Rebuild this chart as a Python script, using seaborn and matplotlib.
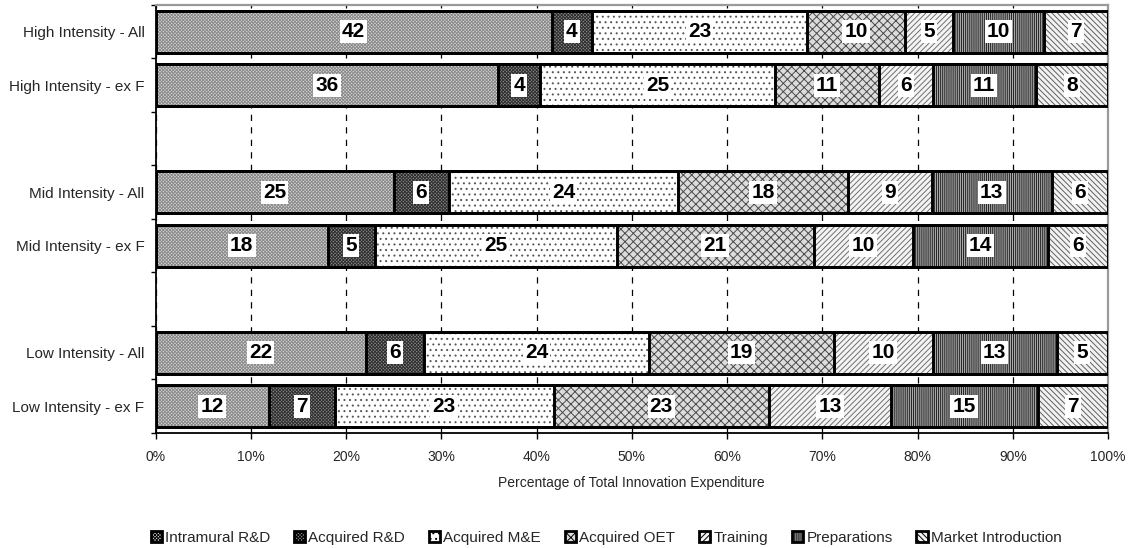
import matplotlib
matplotlib.use("Agg")
import matplotlib.pyplot as plt
import numpy as np
import pandas as pd
import seaborn as sns
from matplotlib.patches import Patch
from matplotlib.ticker import MultipleLocator, PercentFormatter, FixedLocator

# ---- data -------------------------------------------------------------
groups = [
    "High Intensity - All",
    "High Intensity - ex F",
    "Mid Intensity - All",
    "Mid Intensity - ex F",
    "Low Intensity - All",
    "Low Intensity - ex F",
]
# two spacer rows separate the intensity blocks
row_order = [groups[0], groups[1], "", groups[2], groups[3], " ", groups[4], groups[5]]

components = [
    "Intramural R&D",
    "Acquired R&D",
    "Acquired M&E",
    "Acquired OET",
    "Training",
    "Preparations",
    "Market Introduction",
]

intramural_rd = [41.6, 36.0, 25.0, 18.1, 22.1, 11.9]
acquired_rd = [4.2, 4.4, 5.8, 4.9, 6.1, 6.9]
acquired_me = [22.6, 24.6, 24.1, 25.4, 23.6, 23.0]
acquired_oet = [10.3, 11.0, 17.8, 20.7, 19.4, 22.6]
training = [5.0, 5.6, 8.8, 10.4, 10.4, 12.8]
preparations = [9.6, 10.8, 12.6, 14.2, 13.0, 15.4]
market_intro = [6.7, 7.6, 5.9, 6.3, 5.4, 7.4]

series = [intramural_rd, acquired_rd, acquired_me, acquired_oet,
          training, preparations, market_intro]

# ---- styles (face colour, hatch colour, hatch) ------------------------
styles = {
    "Intramural R&D": ("#dadada", "#8a8a8a", "xxxxxxxxxx"),
    "Acquired R&D": ("#8c8c8c", "#2e2e2e", "xxxxxxxxxx"),
    "Acquired M&E": ("#ffffff", "#555555", "..."),
    "Acquired OET": ("#dcdcdc", "#4a4a4a", "xxxx"),
    "Training": ("#f4f4f4", "#707070", "//////"),
    "Preparations": ("#aaaaaa", "#202020", "||||||||"),
    "Market Introduction": ("#f2f2f2", "#606060", "\\\\\\\\\\\\"),
}

# ---- long table with segment start / end -----------------------------
records = []
for gi, g in enumerate(groups):
    start = 0.0
    for comp, vals in zip(components, series):
        v = vals[gi]
        records.append(dict(group=g, component=comp, value=v,
                            start=start, end=start + v))
        start += v
df = pd.DataFrame(records)

# ---- figure -----------------------------------------------------------
sns.set_theme(style="white")
plt.rcParams["font.family"] = ["Liberation Sans", "DejaVu Sans"]
plt.rcParams["hatch.linewidth"] = 0.7

fig = plt.figure(figsize=(11.32, 5.48), dpi=100)
ax = fig.add_axes([0.1374, 0.2099, 0.8414, 0.7811])
ax.set_axisbelow(True)

bar_w = 0.79

# fills: cumulative bars from the outermost segment inwards
for comp in reversed(components):
    face, hcol, hatch = styles[comp]
    sub = df[df["component"] == comp]
    sns.barplot(data=sub, x="end", y="group", order=row_order, orient="h",
                color=face, saturation=1, errorbar=None, width=bar_w,
                hatch=hatch, edgecolor=hcol, linewidth=0, ax=ax, zorder=2)

# black outlines of every segment boundary
for comp in reversed(components):
    sub = df[df["component"] == comp]
    sns.barplot(data=sub, x="end", y="group", order=row_order, orient="h",
                fill=False, color="black", errorbar=None, width=bar_w,
                linewidth=2.1, ax=ax, zorder=3)

# value labels in white boxes
for _, r in df.iterrows():
    ax.text(r["start"] + r["value"] / 2, row_order.index(r["group"]),
            f"{r['value']:.0f}", ha="center", va="center",
            fontsize=15, fontweight="bold", color="black", zorder=5,
            bbox=dict(boxstyle="square,pad=0.1", facecolor="white",
                      edgecolor="none"))

# ---- axes cosmetics ---------------------------------------------------
ax.set_xlim(0, 100)
ax.set_ylim(len(row_order) - 0.5, -0.5)
ax.xaxis.set_major_locator(MultipleLocator(10))
ax.xaxis.set_major_formatter(PercentFormatter(decimals=0))
ax.grid(axis="x", color="black", linestyle=(0, (5, 5)), linewidth=0.9)
ax.grid(axis="y", visible=False)

ax.set_ylabel("")
ax.set_xlabel("Percentage of Total Innovation Expenditure",
              fontsize=10, labelpad=9)
ax.tick_params(axis="x", which="major", bottom=True, length=4, width=1,
               color="black", labelsize=10, pad=8)
ax.tick_params(axis="y", which="major", left=False, length=0,
               labelsize=11, pad=8)
ax.yaxis.set_minor_locator(FixedLocator(np.arange(-0.5, len(row_order), 1.0)))
ax.tick_params(axis="y", which="minor", left=True, length=3.5, width=1,
               color="black")

for side in ("left", "bottom"):
    ax.spines[side].set_color("black")
    ax.spines[side].set_linewidth(1.3)
for side in ("top", "right"):
    ax.spines[side].set_color("#9a9a9a")
    ax.spines[side].set_linewidth(1.6)

# ---- legend -----------------------------------------------------------
handles = [Patch(facecolor=styles[c][0], edgecolor="black", hatch=styles[c][2],
                 linewidth=2) for c in components]
fig.legend(handles, components, loc="center",
           bbox_to_anchor=(606 / 1132, 1 - 538 / 548), ncol=7,
           frameon=False, fontsize=11, handlelength=0.75, handleheight=0.75,
           handletextpad=0.2, columnspacing=1.55, borderaxespad=0)

fig.savefig("out.png", dpi=100)
